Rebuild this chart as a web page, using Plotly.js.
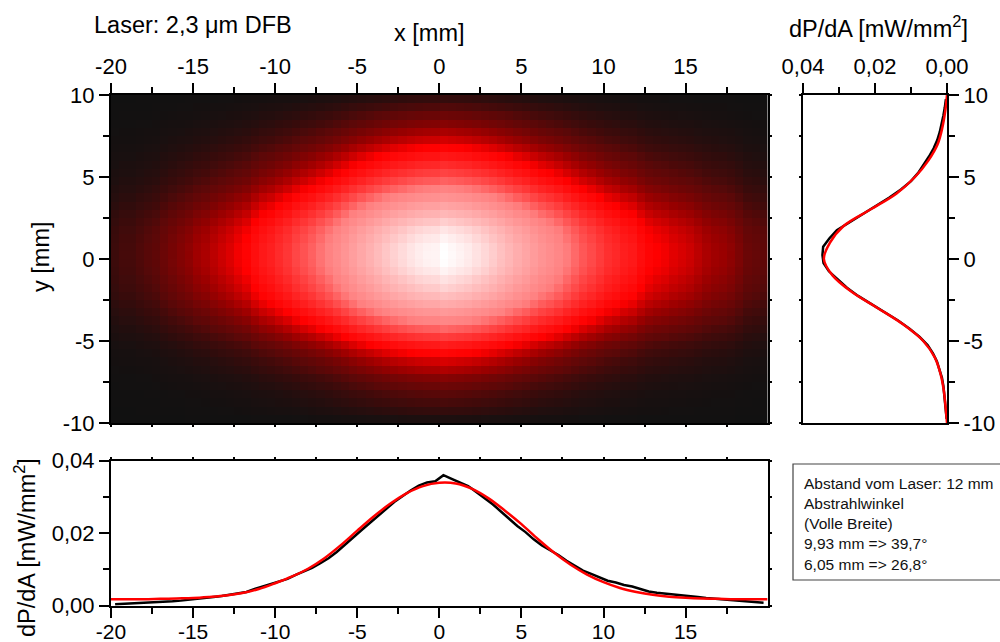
<!DOCTYPE html>
<html>
<head>
<meta charset="utf-8">
<script src="https://cdn.plot.ly/plotly-3.0.1.min.js"></script>
<style>
  html, body { margin: 0; padding: 0; background: #fff; }
  #chart { width: 1000px; height: 642px; }
</style>
</head>
<body>
<div id="chart"></div>
<script>
// Beam profile of a 2.3 um DFB laser, 12 mm from the facet.

// Horizontal cut through the beam centre (x in mm, dP/dA in mW/mm^2)
const xPos = [-19.75,-19.25,-18.75,-18.25,-17.75,-17.25,-16.75,-16.25,-15.75,-15.25,
              -14.75,-14.25,-13.75,-13.25,-12.75,-12.25,-11.75,-11.25,-10.75,-10.25,
              -9.75,-9.25,-8.75,-8.25,-7.75,-7.25,-6.75,-6.25,-5.75,-5.25,
              -4.75,-4.25,-3.75,-3.25,-2.75,-2.25,-1.75,-1.25,-0.75,-0.25,
              0.25,0.75,1.25,1.75,2.25,2.75,3.25,3.75,4.25,4.75,
              5.25,5.75,6.25,6.75,7.25,7.75,8.25,8.75,9.25,9.75,
              10.25,10.75,11.25,11.75,12.25,12.75,13.25,13.75,14.25,14.75,
              15.25,15.75,16.25,16.75,17.25,17.75,18.25,18.75,19.25,19.75];
const xProfile = [0.0004,0.0005,0.0005,0.0006,0.0007,0.0008,0.0010,0.0012,0.0014,0.0016,
                  0.0019,0.0021,0.0024,0.0027,0.0030,0.0034,0.0038,0.0046,0.0053,0.0058,
                  0.0066,0.0074,0.0085,0.0094,0.0104,0.0117,0.0131,0.0148,0.0167,0.0188,
                  0.0208,0.0228,0.0248,0.0268,0.0286,0.0302,0.0318,0.0331,0.0340,0.0343,
                  0.0360,0.0350,0.0340,0.0330,0.0314,0.0298,0.0280,0.0260,0.0240,0.0220,
                  0.0203,0.0183,0.0166,0.0154,0.0140,0.0124,0.0110,0.0097,0.0088,0.0078,
                  0.0069,0.0064,0.0057,0.0053,0.0045,0.0039,0.0036,0.0034,0.0031,0.0029,
                  0.0027,0.0024,0.0021,0.0019,0.0018,0.0016,0.0013,0.0010,0.0009,0.0008];

// Gaussian fit of the horizontal cut
const xFitPos = [-20,-19,-18,-17,-16,-15,-14,-13,-12,-11,-10,-9,-8,-7,-6,-5,-4,-3,-2,-1,
                 0,1,2,3,4,5,6,7,8,9,10,11,12,13,14,15,16,17,18,19,20];
const xFit = [0.0018,0.0018,0.0018,0.0019,0.0020,0.0021,0.0024,0.0028,0.0035,0.0046,
              0.0062,0.0080,0.0102,0.0131,0.0167,0.0207,0.0246,0.0281,0.0310,0.0330,
              0.0339,0.0337,0.0322,0.0296,0.0262,0.0225,0.0184,0.0146,0.0113,0.0086,
              0.0065,0.0049,0.0038,0.0030,0.0025,0.0022,0.0020,0.0019,0.0018,0.0018,0.0018];

// Vertical cut through the beam centre (y in mm)
const yPos = [-9.75,-9.25,-8.75,-8.25,-7.75,-7.25,-6.75,-6.25,-5.75,-5.25,
              -4.75,-4.25,-3.75,-3.25,-2.75,-2.25,-1.75,-1.25,-0.75,-0.25,
              0.25,0.75,1.25,1.75,2.25,2.75,3.25,3.75,4.25,4.75,
              5.25,5.75,6.25,6.75,7.25,7.75,8.25,8.75,9.25,9.75];
const yProfile = [0.0001,0.0003,0.0005,0.0007,0.0010,0.0014,0.0021,0.0028,0.0039,0.0054,
                  0.0076,0.0104,0.0136,0.0172,0.0210,0.0247,0.0278,0.0302,0.0328,0.0343,
                  0.0346,0.0344,0.0327,0.0306,0.0270,0.0232,0.0195,0.0160,0.0127,0.0100,
                  0.0080,0.0064,0.0050,0.0037,0.0027,0.0020,0.0014,0.0010,0.0006,0.0003];

// Gaussian fit of the vertical cut
const yFitPos = [-10,-9,-8,-7,-6,-5,-4,-3,-2,-1,0,1,2,3,4,5,6,7,8,9,10];
const yFit = [0.0000,0.0004,0.0009,0.0018,0.0034,0.0066,0.0121,0.0192,0.0265,0.0318,
              0.0342,0.0325,0.0288,0.0214,0.0140,0.0089,0.0052,0.0026,0.0013,0.0005,0.0000];

// Tick values and labels
const xTicks = [-20,-15,-10,-5,0,5,10,15];
const xTickText = ['-20','-15','-10','-5','0','5','10','15'];
const yTicks = [-10,-5,0,5,10];
const yTickText = ['-10','-5','0','5','10'];
const pTicks = [0, 0.02, 0.04];
const pTickText = ['0,00','0,02','0,04'];

// Info box text
const infoLines = ['Abstand vom Laser: 12 mm','Abstrahlwinkel','(Volle Breite)',
                   '9,93 mm => 39,7°','6,05 mm => 26,8°'];

// Intensity map: outer product of the two measured cuts
const zMap = yProfile.map(py => xProfile.map(px => py * px));
const zMax = Math.max(...zMap.map(r => Math.max(...r)));

const FONT = 'Liberation Sans, Arial, Helvetica, sans-serif';
const W = 1000, H = 642;
const fx = p => p / W;
const fy = p => 1 - p / H;

const mainX = [fx(111), fx(767.5)];
const mainY = [fy(423), fy(95)];
const sideX = [fx(803), fx(947)];
const botY  = [fy(605.7), fy(460.7)];

const tickFont = { family: FONT, size: 22, color: '#000' };
const bottomTickFont = { family: FONT, size: 21, color: '#000' };
const titleFont = { family: FONT, size: 23.5, color: '#000' };
const minorTicks = (dt) => ({ dtick: dt, tick0: 0, ticks: 'outside', ticklen: 6, tickwidth: 2, tickcolor: '#000' });

function mainAxis(extra) {
  return Object.assign({
    showline: true, linewidth: 2, linecolor: '#000', mirror: true,
    tickmode: 'array', ticks: 'outside', ticklen: 10, tickwidth: 2, tickcolor: '#000',
    tickfont: tickFont, showgrid: false, zeroline: false, fixedrange: true
  }, extra);
}
function mirrorAxis(extra) {
  return Object.assign({
    showline: false, ticks: 'outside', ticklen: 3, tickwidth: 2, tickcolor: '#000',
    showticklabels: false, showgrid: false, zeroline: false, fixedrange: true
  }, extra);
}

const traces = [
  {
    type: 'heatmap', x: xPos, y: yPos, z: zMap, xaxis: 'x', yaxis: 'y',
    zmin: 0, zmax: zMax, showscale: false, hoverinfo: 'skip',
    colorscale: [
      [0, '#111111'], [0.008, '#320c0c'], [0.02, '#5a0808'], [0.05, '#9a0000'],
      [0.1, '#ff0000'], [0.35, '#ff8080'], [0.72, '#ffc0c0'], [1, '#ffffff']
    ]
  },
  // vertical cut beside the map
  { type: 'scatter', mode: 'lines', x: yProfile, y: yPos, xaxis: 'x2', yaxis: 'y2',
    line: { color: '#000', width: 2.5 }, hoverinfo: 'skip' },
  { type: 'scatter', mode: 'lines', x: yFit, y: yFitPos, xaxis: 'x2', yaxis: 'y2',
    line: { color: '#ff0000', width: 2.5, shape: 'spline' }, hoverinfo: 'skip' },
  // horizontal cut below the map
  { type: 'scatter', mode: 'lines', x: xPos, y: xProfile, xaxis: 'x3', yaxis: 'y3',
    line: { color: '#000', width: 2.5 }, hoverinfo: 'skip' },
  { type: 'scatter', mode: 'lines', x: xFitPos, y: xFit, xaxis: 'x3', yaxis: 'y3',
    line: { color: '#ff0000', width: 2.5, shape: 'spline' }, hoverinfo: 'skip' },
  // empty traces that carry the short mirrored tick axes
  { type: 'scatter', x: [], y: [], xaxis: 'x4', yaxis: 'y4', hoverinfo: 'skip' },
  { type: 'scatter', x: [], y: [], xaxis: 'x2', yaxis: 'y5', hoverinfo: 'skip' },
  { type: 'scatter', x: [], y: [], xaxis: 'x6', yaxis: 'y6', hoverinfo: 'skip' }
];

const layout = {
  width: W, height: H,
  margin: { l: 0, r: 0, t: 0, b: 0 },
  paper_bgcolor: '#fff', plot_bgcolor: '#fff',
  showlegend: false,
  separators: ', ',
  font: { family: FONT, color: '#000' },

  // intensity map
  xaxis: mainAxis({ domain: mainX, anchor: 'y', side: 'top', range: [-20, 19.99],
    tickvals: xTicks, ticktext: xTickText, minor: minorTicks(2.5) }),
  yaxis: mainAxis({ domain: mainY, anchor: 'x', range: [-10, 10],
    tickvals: yTicks, ticktext: yTickText, minor: minorTicks(2.5) }),
  xaxis4: mirrorAxis({ overlaying: 'x', anchor: 'y', side: 'bottom', range: [-20, 19.99],
    dtick: 2.5, tick0: 0 }),
  yaxis4: mirrorAxis({ overlaying: 'y', anchor: 'x', side: 'right', range: [-10, 10],
    dtick: 2.5, tick0: 0 }),

  // vertical cut
  xaxis2: mainAxis({ domain: sideX, anchor: 'y2', side: 'top', range: [0.04, 0],
    tickvals: pTicks, ticktext: pTickText, minor: minorTicks(0.01) }),
  yaxis2: mainAxis({ domain: mainY, anchor: 'x2', side: 'right', range: [-10, 10],
    tickvals: yTicks, ticktext: yTickText, minor: minorTicks(2.5) }),
  yaxis5: mirrorAxis({ overlaying: 'y2', anchor: 'x2', side: 'left', range: [-10, 10],
    dtick: 2.5, tick0: 0 }),

  // horizontal cut
  xaxis3: mainAxis({ domain: mainX, anchor: 'y3', side: 'bottom', range: [-20, 19.99],
    tickvals: xTicks, ticktext: xTickText, minor: minorTicks(2.5),
    tickfont: bottomTickFont, ticklabelstandoff: -4 }),
  yaxis3: mainAxis({ domain: botY, anchor: 'x3', range: [0, 0.04],
    tickvals: pTicks, ticktext: pTickText, minor: minorTicks(0.01) }),
  xaxis6: mirrorAxis({ overlaying: 'x3', anchor: 'y3', side: 'top', range: [-20, 19.99],
    dtick: 2.5, tick0: 0 }),
  yaxis6: mirrorAxis({ overlaying: 'y3', anchor: 'x3', side: 'right', range: [0, 0.04],
    dtick: 0.01, tick0: 0 }),

  shapes: [
    { type: 'rect', xref: 'paper', yref: 'paper',
      x0: fx(793), x1: fx(1020), y0: fy(580), y1: fy(464),
      line: { color: '#444', width: 1.2 }, fillcolor: 'rgba(0,0,0,0)' }
  ],

  annotations: [
    { text: 'Laser: 2,3 μm DFB', xref: 'paper', yref: 'paper', x: fx(92), y: fy(25),
      xanchor: 'left', yanchor: 'middle', showarrow: false, font: titleFont },
    { text: 'x [mm]', xref: 'paper', yref: 'paper', x: fx(429), y: fy(33),
      xanchor: 'center', yanchor: 'middle', showarrow: false, font: titleFont },
    { text: 'dP/dA [mW/mm<sup>2</sup>]', xref: 'paper', yref: 'paper', x: fx(878), y: fy(27),
      xanchor: 'center', yanchor: 'middle', showarrow: false, font: titleFont },
    { text: 'y [mm]', xref: 'paper', yref: 'paper', x: fx(41), y: fy(257), textangle: -90,
      xanchor: 'center', yanchor: 'middle', showarrow: false, font: titleFont },
    { text: 'dP/dA [mW/mm<sup>2</sup>]', xref: 'paper', yref: 'paper', x: fx(25), y: fy(548), textangle: -90,
      xanchor: 'center', yanchor: 'middle', showarrow: false, font: titleFont }
  ].concat(infoLines.map((t, i) => ({
    text: t, xref: 'paper', yref: 'paper', x: fx(802), y: fy(483 + i * 20.3),
    xanchor: 'left', yanchor: 'middle', showarrow: false,
    font: { family: FONT, size: 15.5, color: '#111' }
  })))
};

Plotly.newPlot('chart', traces, layout, { staticPlot: true, displayModeBar: false });
</script>
</body>
</html>
